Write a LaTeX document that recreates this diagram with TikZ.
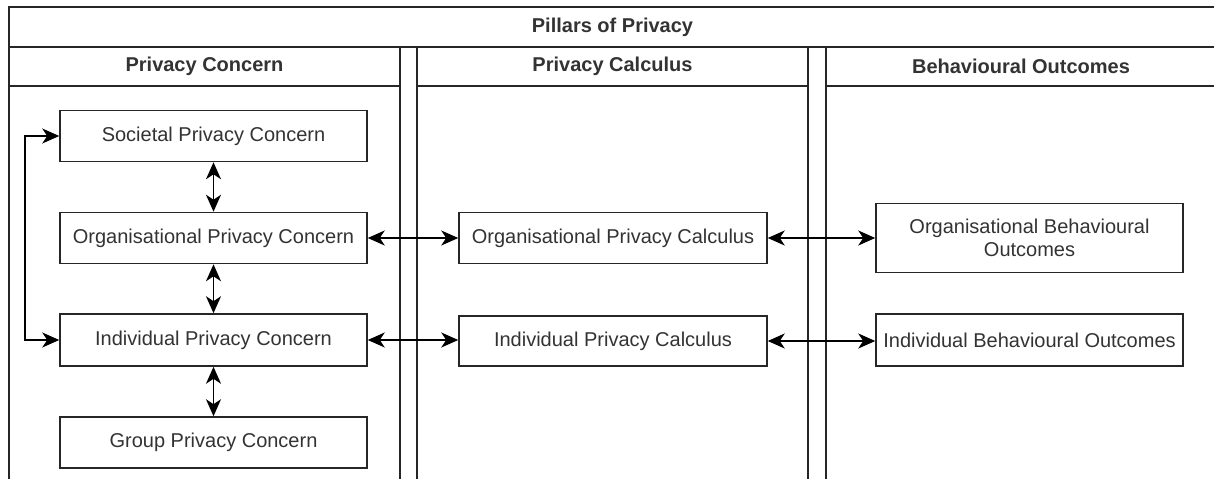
\documentclass[tikz,border=0pt]{standalone}
\usepackage{fontspec}
\setmainfont{Liberation Sans}
\usetikzlibrary{arrows.meta}
\begin{document}
\begin{tikzpicture}[x=1pt,y=-1pt,
  frame/.style={line width=1.4pt, draw=black!85},
  box/.style={draw=black!85, line width=1.5pt, inner sep=0pt, align=center,
    font=\fontsize{20}{23}\selectfont, text=black!80},
  hdr/.style={font=\fontsize{20}{23}\selectfont\bfseries, text=black!80, inner sep=0pt},
  link/.style={line width=1.8pt, draw=black,
    {Stealth[length=17pt,width=15pt,inset=5pt]}-{Stealth[length=17pt,width=15pt,inset=5pt]}}
]
\useasboundingbox[fill=white] (0,0) rectangle (1214,479);
% title container
\draw[frame] (9,479) -- (9,7) -- (1216,7) -- (1216,479);
\draw[frame] (9,47) -- (1216,47);
\node[hdr] (title) at (612.5,27.5) {Pillars of Privacy};
% column containers
\draw[frame] (9,479) -- (9,47) -- (400,47) -- (400,479);
\draw[frame] (9,86) -- (400,86);
\draw[frame] (417,479) -- (417,47) -- (808,47) -- (808,479);
\draw[frame] (417,86) -- (808,86);
\draw[frame] (826,479) -- (826,47) -- (1216,47) -- (1216,479);
\draw[frame] (826,86) -- (1216,86);
\node[hdr] (h1) at (204.5,66.5) {Privacy Concern};
\node[hdr] (h2) at (612.5,66.5) {Privacy Calculus};
\node[hdr] (h3) at (1021,66.5) {Behavioural Outcomes};
% nodes
\node[box, minimum width=307pt, minimum height=51pt] (soc) at (213.5,136) {Societal Privacy Concern};
\node[box, minimum width=307pt, minimum height=51pt] (org) at (213.5,238) {Organisational Privacy Concern};
\node[box, minimum width=307pt, minimum height=52pt] (ind) at (213.5,340) {Individual Privacy Concern};
\node[box, minimum width=307pt, minimum height=51pt] (grp) at (213.5,442.5) {Group Privacy Concern};
\node[box, minimum width=308pt, minimum height=51pt] (ocalc) at (613,238) {Organisational Privacy Calculus};
\node[box, minimum width=308pt, minimum height=50pt] (icalc) at (613,341) {Individual Privacy Calculus};
\node[box, minimum width=307pt, minimum height=69pt] (obeh) at (1029.5,238) {Organisational Behavioural\\Outcomes};
\node[box, minimum width=307pt, minimum height=52pt] (ibeh) at (1029.5,340) {Individual Behavioural Outcomes};
% connectors
\draw[link] (soc.south) -- (org.north);
\draw[link] (org.south) -- (ind.north);
\draw[link] (ind.south) -- (grp.north);
\draw[link] (org.east) -- (ocalc.west);
\draw[link] (ocalc.east) -- (obeh.west);
\draw[link] (ind.east) -- (icalc.west |- ind.east);
\draw[link] (icalc.east) -- (ibeh.west |- icalc.east);
\coordinate (lx) at (25,0);
\draw[link] (ind.west) -- (ind.west -| lx) -- (soc.west -| lx) -- (soc.west);
\end{tikzpicture}
\end{document}
